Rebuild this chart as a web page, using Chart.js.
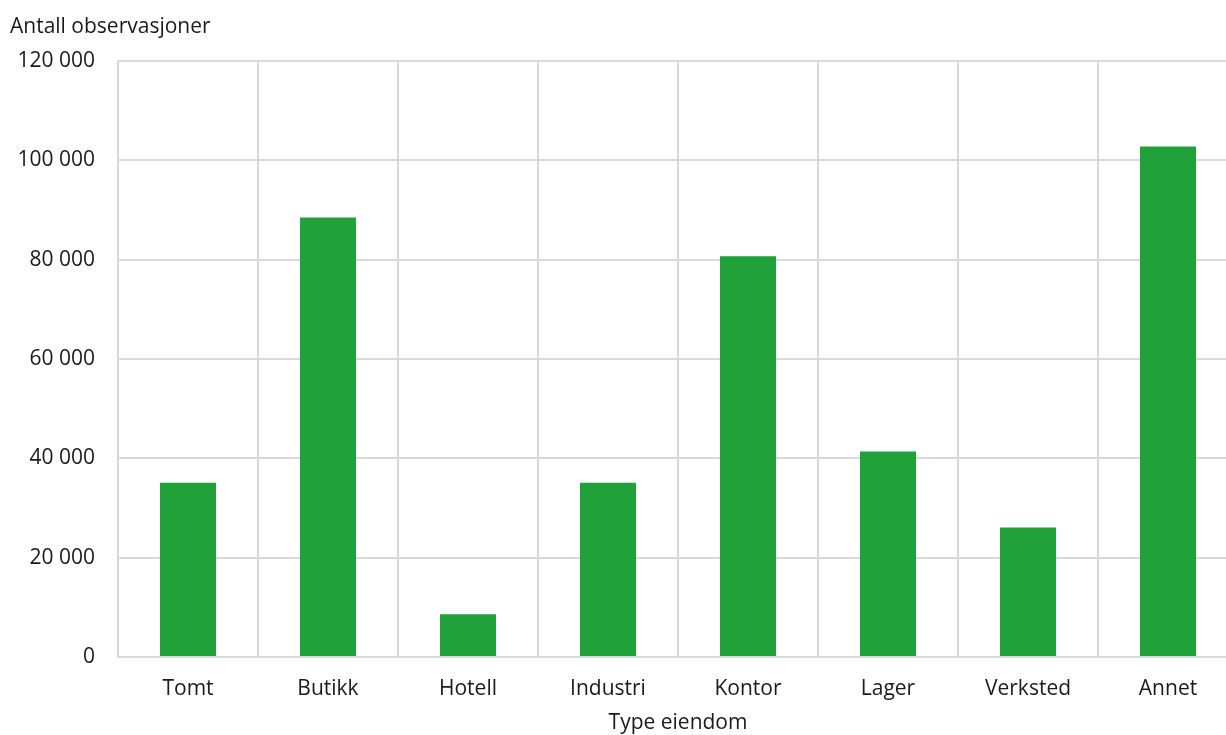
<!DOCTYPE html>
<html>
<head>
<meta charset="utf-8">
<script src="https://cdn.jsdelivr.net/npm/chart.js@4/dist/chart.umd.min.js"></script>
<style>
    html, body { margin: 0; padding: 0; background: #ffffff; overflow: hidden; }
    #clip { width: 1226px; height: 735px; overflow: hidden; }
    #wrap { width: 1238px; height: 736px; position: relative; }
</style>
</head>
<body>
<div id="clip"><div id="wrap"><canvas id="eiendom"></canvas></div></div>
<script>
const kategorier = ['Tomt', 'Butikk', 'Hotell', 'Industri', 'Kontor', 'Lager', 'Verksted', 'Annet'];
const observasjoner = [35100, 88500, 8600, 35100, 80700, 41400, 26100, 102800];
const yTicks = [0, 20000, 40000, 60000, 80000, 100000, 120000];

const tekst = '#1a1a1a';
const grid = '#d9d9d9';
const fontSize = 21;

function tusen(v) {
    return String(v).replace(/\B(?=(\d{3})+(?!\d))/g, ' ');
}

const config = {
    type: 'bar',
    data: {
        labels: kategorier,
        datasets: [{
            label: 'Antall observasjoner',
            data: observasjoner,
            backgroundColor: '#21a13a',
            borderWidth: 0,
            barPercentage: 0.4,
            categoryPercentage: 1
        }]
    },
    options: {
        responsive: true,
        maintainAspectRatio: false,
        animation: false,
        layout: {
            padding: { left: 10, right: 0, top: 0, bottom: 0 }
        },
        plugins: {
            legend: { display: false },
            tooltip: { enabled: false },
            title: {
                display: true,
                text: 'Antall observasjoner',
                align: 'start',
                color: tekst,
                font: { family: 'Open Sans', size: fontSize, weight: 'normal' },
                padding: { top: 14, bottom: 22 }
            }
        },
        scales: {
            x: {
                afterFit: function (scale) {
                    scale.height = 79;
                },
                grid: { color: grid, lineWidth: 2, drawTicks: false, offset: true },
                border: { color: grid, width: 2 },
                ticks: {
                    color: tekst,
                    padding: 19,
                    font: { family: 'Open Sans', size: fontSize }
                },
                title: {
                    display: true,
                    text: 'Type eiendom',
                    color: tekst,
                    font: { family: 'Open Sans', size: fontSize },
                    padding: { top: 8, bottom: 0 }
                }
            },
            y: {
                min: 0,
                max: 120000,
                afterBuildTicks: function (scale) {
                    scale.ticks = yTicks.map(v => ({ value: v }));
                },
                afterFit: function (scale) {
                    scale.width = 108;
                },
                grid: { color: grid, lineWidth: 2, drawTicks: false },
                border: { color: grid, width: 2 },
                ticks: {
                    color: tekst,
                    padding: 23,
                    font: { family: 'Open Sans', size: fontSize },
                    callback: function (v) { return tusen(v); }
                }
            }
        }
    }
};

const context = document.getElementById('eiendom').getContext('2d');
const chart = new Chart(context, config);
</script>
</body>
</html>
